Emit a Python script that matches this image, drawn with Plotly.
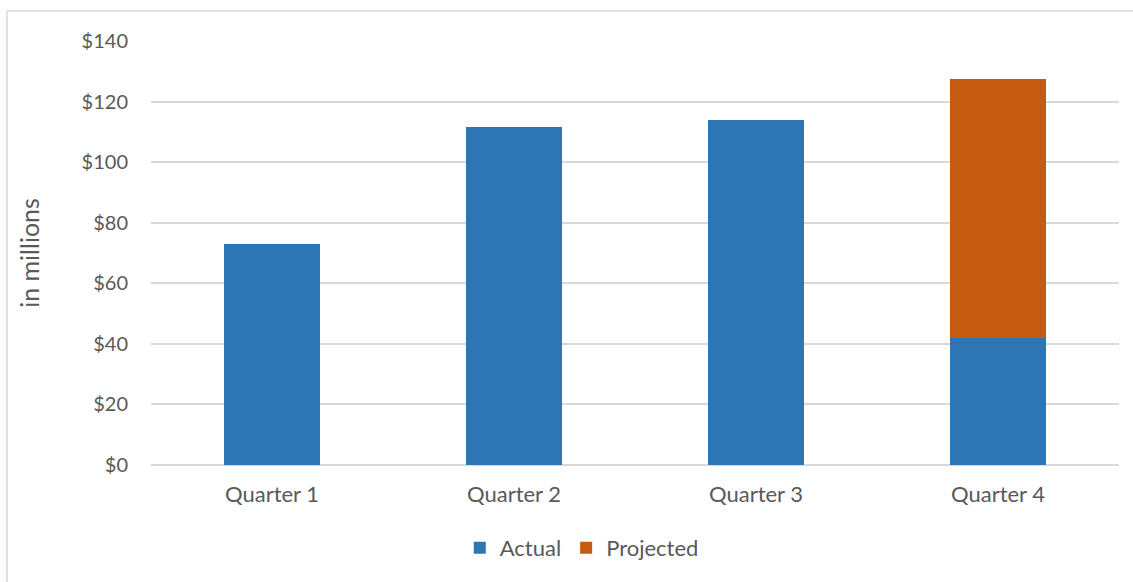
import plotly.graph_objects as go

quarters = ["Quarter 1", "Quarter 2", "Quarter 3", "Quarter 4"]
actual = [73, 111.5, 113.8, 42]
projected = [0, 0, 0, 85.5]
tick_vals = [0, 20, 40, 60, 80, 100, 120, 140]
tick_text = ["$0", "$20", "$40", "$60", "$80", "$100", "$120", "$140"]

W, H = 1133, 582
L, R, T, B = 151, 14, 41, 117
pw, ph = W - L - R, H - T - B

fig = go.Figure()
fig.add_trace(go.Bar(x=quarters, y=actual, name="Actual", marker_color="#2E75B6",
                     marker_line_width=0))
fig.add_trace(go.Bar(x=quarters, y=projected, name="Projected", marker_color="#C55A11",
                     marker_line_width=0))

font = "Lato, Open Sans, Liberation Sans, sans-serif"
fig.update_layout(
    width=W, height=H,
    margin=dict(l=L, r=R, t=T, b=B),
    barmode="stack", bargap=0.6,
    plot_bgcolor="white", paper_bgcolor="white",
    font=dict(family=font, size=20, color="#595959"),
    showlegend=True,
    legend=dict(orientation="h", x=0.445, xanchor="center", y=-(548 - 465) / ph,
                yanchor="middle", font=dict(size=22, color="#595959"),
                itemwidth=30, traceorder="normal"),
    xaxis=dict(showgrid=False, showline=False, ticks="", ticklabelstandoff=14,
               tickfont=dict(size=22, color="#595959")),
    yaxis=dict(range=[0, 140], tickvals=tick_vals, ticktext=tick_text,
               showgrid=True, gridcolor="#D9D9D9", gridwidth=1.5,
               zeroline=True, zerolinecolor="#D9D9D9", zerolinewidth=1.5,
               showline=False, ticks="", ticklabelstandoff=22,
               tickfont=dict(size=20, color="#595959"),
               title=dict(text="in millions", font=dict(size=25, color="#595959"),
                          standoff=34)),
    shapes=[dict(type="rect", xref="paper", yref="paper",
                 x0=(7 - L) / pw, x1=(W + 5 - L) / pw,
                 y0=-(H + 5 - (T + ph)) / ph, y1=(T + ph - 11) / ph,
                 line=dict(color="#D9D9D9", width=1.5), fillcolor="rgba(0,0,0,0)",
                 layer="below")],
)
fig.write_html("out.html")
